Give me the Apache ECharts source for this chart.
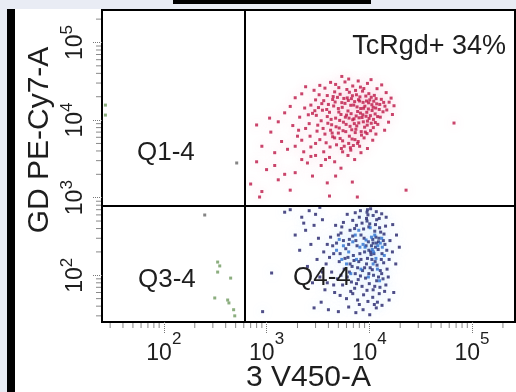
<!DOCTYPE html>
<html><head><meta charset="utf-8">
<script src="https://cdn.jsdelivr.net/npm/echarts@6/dist/echarts.min.js"></script>
<style>html,body{margin:0;padding:0;background:#fff}#c{width:516px;height:392px}</style>
</head><body><div id="c"></div>
<script>
// ---- data ----
const xAxisName = '3 V450-A';
const yAxisName = 'GD PE-Cy7-A';
const axisMin = 25, axisMax = 262144;
const minorTicks = [30,40,50,60,70,80,90,200,300,400,500,600,700,800,900,2000,3000,4000,5000,6000,7000,8000,9000,20000,30000,40000,50000,60000,70000,80000,90000,200000];
const gateX = 610, gateY = 780;
const quadrantNames = ['Q1-4', 'Q3-4', 'Q4-4'];
const headline = 'TcRgd+ 34%';

const redPoints = [
[3200,14500],[3600,17800],[4100,12600],[4500,15200],[4900,19600],[5300,11800],[5800,16400],[6200,13100],[6700,18900],[7100,10400],[7600,14800],[8200,12300],[8700,16900],[9300,11200],[9800,13900],[10600,15800],[11400,12000],[3400,9800],[3900,11100],[4300,8700],[4700,10600],[5100,7900],[5600,9400],[6000,11600],[6500,8300],[6900,10100],[7400,7600],[7900,9200],[8500,10800],[9000,8100],[9600,9700],[10300,7300],[11000,10200],[3100,7200],[3700,6600],[4200,7400],[4600,5900],[5000,6800],[5500,5400],[5900,7100],[6400,6200],[6800,5700],[7300,6900],[7800,5300],[8400,6400],[8900,5900],[9500,6700],[3300,5600],[3800,5100],[4400,6100],[4800,4800],[5200,5800],[5700,4600],[6300,5000],[7000,4700],[7700,5000],[3500,13400],[4000,15900],[4400,18400],[5000,14100],[5400,16800],[6100,19300],[6600,15500],[7200,17300],[7700,12900],[8100,19900],[8800,14200],[9400,17600],[10100,18200],[10900,14600],[11800,16200],[12500,13700],[5200,21500],[6400,22800],[7500,21200],[8600,23600],[9900,21900],[11200,20800],[4600,23100],[3900,20700],[3000,18200],[2700,15600],[2800,12200],[2600,9000],[12800,10900],[13600,12800],[14200,15100],[13100,18500],[12100,8800],[11600,6600],[10800,5500],
[5800,31000],[6900,27500],[4700,28800],[8200,26600],[9600,29700],[3700,25800],[2900,24200],[2200,21800],[1900,19400],[11900,25400],[14600,22600],[16300,19200],[17400,15300],[16800,11800],[15400,9400],[14100,7400],[5400,36500],[6300,33800],[4200,30600],[7800,31900],[3300,28000],[2400,26900],[13200,28400],[10400,33200],
[1700,15000],[1500,12400],[2100,10900],[1800,8500],[2400,7800],[2000,6200],[1300,9500],[1100,7000],[1400,5300],[900,4600],[1200,3800],[800,2900],[1000,2300],[1600,4200],[2300,3900],[2700,4500],[3000,3500],[3600,3900],[4100,3300],[2500,2800],[3400,2600],[4600,2900],[1900,2100],[2800,1900],[1300,1700],[700,1500],[900,1200],[1700,1250],[3900,1550],[4700,1900],[5300,2400],[6200,3500],[7200,3100],[8300,3800],[9600,4300],[5500,3900],[6600,4100],[2200,3100],[1200,2600],[1500,2000],
[22800,1250],[6840,1590],[7650,1020],[4100,1050],[855,1020],[66800,9160],[800,8650],[1070,10600],
[3050,11500],[3450,16300],[3850,13700],[4250,10200],[4650,17100],[5050,12700],[5450,14600],[5850,10900],[6250,17900],[6650,12100],[7050,15600],[7450,11300],[7850,18300],[8250,14100],[8650,11700],[9050,15100],[9450,12600],[9850,16700],[10250,11400],[10650,13300],[11050,17500],[11550,14300],[12050,11100],[12650,15900],[3150,8600],[3550,7800],[3950,9100],[4350,6800],[4750,8200],[5150,9900],[5550,7300],[5950,8800],[6350,10600],[6750,7500],[7150,9000],[7550,8400],[7950,10700],[8350,7100],[8750,9500],[9150,7000],[9550,8600],[9950,10500],[10450,9100],[10950,8000],[11450,9300],[4450,20100],[5650,19000],[6850,20600],[8050,17600],[9250,20400],[10450,19700],[11650,18900],[6050,24800],[7350,24100],[8850,25500],[5050,26200],[2950,13200],[2550,11700],[2350,14300],[3250,21200],[13800,16900],[14800,13500],[15600,17000],[4150,4500],[5350,4300],[6550,4400],[7250,5600],[8050,4600],[2650,6200],[3000,5000],[2200,5500],[1900,4600],[2050,7400],[2700,3400],[3750,3100]
];

const navyPoints = [
[4200,310],[4800,260],[5300,350],[5900,220],[6400,290],[7000,180],[7600,240],[8300,330],[9000,200],[9800,270],[10600,160],[11500,230],[12400,300],[13300,190],[14200,250],[4500,190],[5100,150],[5700,120],[6200,170],[6800,130],[7300,105],[7900,150],[8600,115],[9400,140],[10200,125],[11000,100],[11900,135],[12800,115],[13800,145],[4300,110],[4900,90],[5500,75],[6100,95],[6700,82],[7200,68],[7800,88],[8500,72],[9200,92],[10000,78],[10900,65],[11800,85],[12700,70],[13600,90],[4600,60],[5200,55],[6000,50],[6900,58],[7700,48],[8800,56],[9700,46],[10800,52],[12000,45],[5400,420],[6500,380],[7500,440],[8800,395],[10100,460],[11300,370],[12600,410],[9500,500],[8000,560],[10900,590],[11800,520],[6900,510],[5600,480],[4700,440],[13900,340],[14800,210],[15600,160],[14900,120],[15900,280],[16800,200],[14500,75],[15300,95],[9900,210],[10500,240],[11100,190],[11700,260],[12200,215],[10800,290],[9600,165],[10400,185],
[2600,680],[3000,610],[2200,560],[1700,700],[1500,650],[3500,520],[2900,440],[2400,380],[3200,300],[2700,250],[3600,200],[3100,160],[2500,130],[3800,140],[3300,95],[2800,80],[3700,65],[3400,45],[2900,38],[4000,36],[5000,34],[6300,39],[7400,33],[8700,36],[10100,31],[11700,38],[13300,41],[9600,700],[9500,650],[9700,600],[9400,540],[10300,720],[8200,680],[11700,660],[13200,620],[14600,560],[16900,450],[18400,330],[19600,230],[18100,140],[17300,60],[15600,48],[1120,107],[915,34],
[4400,240],[5000,330],[5600,280],[6300,250],[6900,320],[7400,280],[8100,190],[8900,300],[9300,240],[10300,200],[10900,260],[11600,310],[12300,270],[13100,160],[13700,280],[5200,190],[5800,165],[6500,140],[7100,155],[7700,125],[8300,160],[9000,125],[9900,105],[10700,118],[11400,150],[12300,95],[13200,105],[5300,100],[6400,110],[7500,78],[8200,98],[9500,64],[11300,72],[12500,58],[14100,62],[3900,250],[4100,170],[3500,110],[3900,80],[4500,75],[6600,62],[8000,42],[11200,42],[7200,400],[8500,470],[9900,420],[11500,450],[12900,360],[14400,430],[6100,610],[7300,640],[12500,540],[2300,470],[1900,330],[2100,210],[3300,750]
];

const brightBluePoints = [
[9100,230],[10700,215],[12100,240],[11000,200],[8700,250],[12800,260],[11600,165],[10500,310],[9300,285],[13400,230],[10900,140],[11300,330],[12000,120],
[5600,240],[6300,200],[6900,270],[7500,160],[8100,230],[5100,290],[6000,140],[7300,330],[8300,120],[4800,210],[14000,180],[13200,300],[6600,105],[9800,95],[12600,85],[7900,380],[10200,410],[5400,160]
];

const greenPoints = [[313,51],[334,148],[350,132],[334,110],[447,92],[418,48],[430,44],[478,36],[490,30],[27,15600],[27,11600]];
const grayPoints = [[512,2800],[250,598]];

// ---- chart ----
const FONT = 'Liberation Sans, Arial, sans-serif';
const chart = echarts.init(document.getElementById('c'), null, {renderer: 'canvas'});

function expLabel(v) {
  const e = Math.log10(v);
  if (Math.abs(e - Math.round(e)) > 1e-6) return '';
  return '{a|10}{b|' + Math.round(e) + '}';
}
function richFor(pad) {
  return {
    a: {fontSize: 23, lineHeight: 23, color: '#1e1e1e', fontFamily: FONT},
    b: {fontSize: 17, lineHeight: 17, padding: [0, 0, pad, 0], color: '#1e1e1e', fontFamily: FONT}
  };
}

const scatterBase = {type: 'scatter', symbol: 'rect', symbolSize: 3, silent: true, z: 3};

chart.setOption({
  animation: false,
  backgroundColor: '#ffffff',
  grid: {left: 102, top: 10, right: 1, bottom: 70, outerBoundsMode: 'none', containLabel: false,
    show: true, borderColor: '#000', borderWidth: 2, backgroundColor: '#fff'},
  xAxis: {
    type: 'log', min: axisMin, max: axisMax,
    name: xAxisName, nameLocation: 'middle', nameGap: 41, nameMoveOverlap: false,
    nameTextStyle: {fontSize: 30, color: '#1e1e1e', fontFamily: FONT},
    axisLine: {show: true, lineStyle: {color: '#000', width: 2}},
    axisTick: {show: true, length: 11, lineStyle: {color: '#777', width: 1, type: 'dotted'}},
    axisLabel: {formatter: expLabel, margin: 20, rich: richFor(28), showMinLabel: false, showMaxLabel: false},
    splitLine: {show: false}
  },
  yAxis: {
    type: 'log', min: axisMin, max: axisMax,
    name: yAxisName, nameLocation: 'middle', nameGap: 47, nameMoveOverlap: false,
    nameTextStyle: {fontSize: 30, color: '#1e1e1e', fontFamily: FONT, padding: [0, 0, 0, 52]},
    axisLine: {show: true, lineStyle: {color: '#000', width: 2}},
    axisTick: {show: true, length: 9, lineStyle: {color: '#777', width: 1, type: 'dotted'}},
    axisLabel: {formatter: expLabel, margin: 15, rotate: 90, rich: richFor(16), showMinLabel: false, showMaxLabel: false},
    splitLine: {show: false}
  },
  series: [
    {type: 'custom', clip: false, silent: true, z: 1, data: minorTicks.map(v => [v]),
      renderItem: function (params, api) {
        const p = api.coord([api.value(0), axisMin]);
        return {type: 'line', shape: {x1: p[0], y1: p[1] + 1, x2: p[0], y2: p[1] + 6}, style: {stroke: '#888', lineWidth: 1}};
      }},
    {type: 'custom', clip: false, silent: true, z: 1, data: minorTicks.map(v => [v]),
      renderItem: function (params, api) {
        const p = api.coord([axisMin, api.value(0)]);
        return {type: 'line', shape: {x1: p[0] - 1, y1: p[1], x2: p[0] - 6, y2: p[1]}, style: {stroke: '#888', lineWidth: 1}};
      }},
    Object.assign({}, scatterBase, {name: 'red', data: redPoints,
      itemStyle: {color: '#bd1646', shadowBlur: 10, shadowColor: 'rgba(240,130,170,0.55)'}}),
    Object.assign({}, scatterBase, {name: 'navy', data: navyPoints,
      itemStyle: {color: '#23226a', shadowBlur: 10, shadowColor: 'rgba(140,200,240,0.5)'}}),
    Object.assign({}, scatterBase, {name: 'blue', data: brightBluePoints,
      itemStyle: {color: '#2a6fd0', shadowBlur: 8, shadowColor: 'rgba(140,200,240,0.5)'}}),
    Object.assign({}, scatterBase, {name: 'green', data: greenPoints, itemStyle: {color: '#6f9a5f'}}),
    Object.assign({}, scatterBase, {name: 'gray', data: grayPoints, itemStyle: {color: '#666'},
      markLine: {silent: true, symbol: 'none', label: {show: false},
        lineStyle: {color: '#000', width: 2, type: 'solid'},
        data: [{xAxis: gateX}, {yAxis: gateY}]}})
  ],
  graphic: [
    {type: 'rect', shape: {x: 0, y: 0, width: 516, height: 9}, style: {fill: '#e9ecf4'}, silent: true},
    {type: 'rect', shape: {x: 0, y: 0, width: 7, height: 392}, style: {fill: '#e9ecf4'}, silent: true},
    {type: 'rect', shape: {x: 7, y: 9, width: 8, height: 383}, style: {fill: '#000'}, silent: true},
    {type: 'rect', shape: {x: 173, y: 0, width: 198, height: 4}, style: {fill: '#000'}, silent: true},
    {type: 'text', x: 137, y: 153, z: 10, style: {text: quadrantNames[0], fontSize: 26, fill: '#1e1e1e', fontFamily: FONT, verticalAlign: 'middle'}},
    {type: 'text', x: 138, y: 280, z: 10, style: {text: quadrantNames[1], fontSize: 26, fill: '#1e1e1e', fontFamily: FONT, verticalAlign: 'middle'}},
    {type: 'text', x: 293, y: 278, z: 10, style: {text: quadrantNames[2], fontSize: 26, fill: '#1e1e1e', fontFamily: FONT, verticalAlign: 'middle'}},
    {type: 'text', x: 506, y: 47, z: 10, style: {text: headline, fontSize: 27, fill: '#1e1e1e', fontFamily: FONT, align: 'right', verticalAlign: 'middle'}}
  ]
});
</script>
</body></html>
